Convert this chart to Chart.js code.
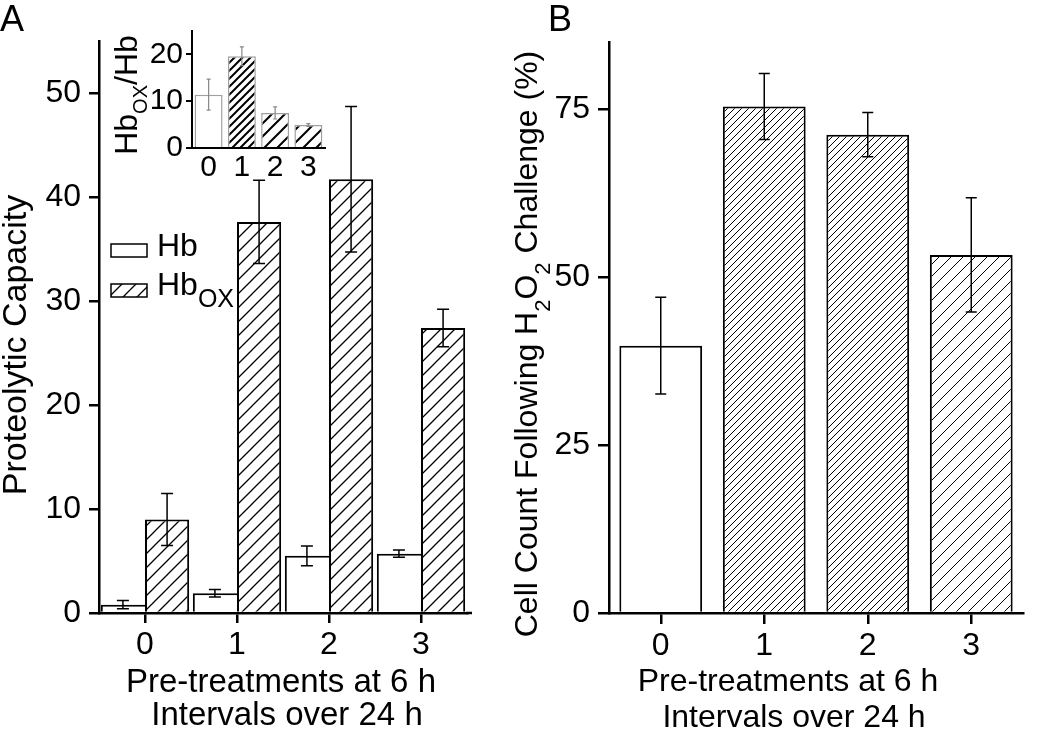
<!DOCTYPE html>
<html>
<head>
<meta charset="utf-8">
<script src="https://cdn.jsdelivr.net/npm/chart.js@4.4.1/dist/chart.umd.min.js"></script>
<style>
  body { margin: 0; background: #fff; }
  #wrap { position: relative; width: 1050px; height: 734px; overflow: hidden; }
  canvas { position: absolute; top: 0; }
</style>
</head>
<body>
<div id="wrap">
  <canvas id="panelA" width="490" height="734" style="left:0"></canvas>
  <canvas id="inset" width="240" height="190" style="left:100px"></canvas>
  <canvas id="panelB" width="550" height="734" style="left:500px"></canvas>
</div>
<script>
const FONT = '"Liberation Sans", Arial, sans-serif';

// categories (number of pre-treatments)
const categories = ['0', '1', '2', '3'];

// panel A: proteolytic capacity
const hbValues = [0.8, 1.9, 5.5, 5.7];
const hbErrors = [0.4, 0.35, 0.95, 0.35];
const hboxValues = [9.0, 37.6, 41.7, 27.4];
const hboxErrors = [2.5, 4.0, 7.0, 1.8];

// inset: HbOX / Hb ratio
const ratioValues = [11.4, 19.6, 7.5, 4.9];
const ratioErrors = [3.3, 2.0, 1.3, 0.3];

// panel B: cell count after H2O2 challenge (%)
const survivalValues = [39.8, 75.4, 71.2, 53.3];
const survivalErrors = [7.2, 4.9, 3.3, 8.5];

// diagonal "/" hatch fill
function hatch(step, width, color) {
  const c = document.createElement('canvas');
  c.width = step; c.height = step;
  const g = c.getContext('2d');
  g.fillStyle = '#fff';
  g.fillRect(0, 0, step, step);
  g.strokeStyle = color || '#000';
  g.lineWidth = width;
  g.beginPath();
  g.moveTo(0, step); g.lineTo(step, 0);
  g.moveTo(-step / 2, step / 2); g.lineTo(step / 2, -step / 2);
  g.moveTo(step / 2, step * 1.5); g.lineTo(step * 1.5, step / 2);
  g.stroke();
  return g.createPattern(c, 'repeat');
}

// text with sub-scripts: segs = [[text, size, dy]]
function drawRich(ctx, segs, x, y, angle, align) {
  ctx.save();
  ctx.translate(x, y);
  ctx.rotate(angle || 0);
  ctx.fillStyle = '#000';
  ctx.textBaseline = 'alphabetic';
  ctx.textAlign = 'left';
  let total = 0;
  segs.forEach(s => { ctx.font = s[1] + 'px ' + FONT; total += ctx.measureText(s[0]).width; });
  let cx = align === 'left' ? 0 : -total / 2;
  segs.forEach(s => {
    ctx.font = s[1] + 'px ' + FONT;
    ctx.fillText(s[0], cx, s[2] || 0);
    cx += ctx.measureText(s[0]).width;
  });
  ctx.restore();
}

const errorBars = {
  id: 'errorBars',
  afterDatasetsDraw(chart) {
    const ctx = chart.ctx;
    const yScale = chart.scales.y;
    chart.data.datasets.forEach((ds, i) => {
      if (!ds.errors) return;
      const meta = chart.getDatasetMeta(i);
      ctx.save();
      ctx.strokeStyle = ds.errorColor || '#000';
      ctx.lineWidth = ds.errorWidth || 1.5;
      meta.data.forEach((bar, j) => {
        const v = ds.data[j], e = ds.errors[j];
        const top = yScale.getPixelForValue(v + e);
        const bot = yScale.getPixelForValue(v - e);
        const cap = (ds.capWidth || 0) / 2;
        ctx.beginPath();
        ctx.moveTo(bar.x, top); ctx.lineTo(bar.x, bot);
        if (cap) {
          ctx.moveTo(bar.x - cap, top); ctx.lineTo(bar.x + cap, top);
          ctx.moveTo(bar.x - cap, bot); ctx.lineTo(bar.x + cap, bot);
        }
        ctx.stroke();
      });
      ctx.restore();
    });
  }
};

function axisX(fontSize, tickLen, pad, height, lw) {
  return {
    type: 'category',
    offset: true,
    grid: { display: tickLen > 0, offset: false, drawOnChartArea: false, drawTicks: tickLen > 0, tickLength: tickLen, color: '#000', lineWidth: lw },
    border: { display: true, color: '#000', width: lw },
    ticks: { color: '#000', font: { family: FONT, size: fontSize }, padding: pad, maxRotation: 0 },
    afterFit: s => { s.height = height; }
  };
}

function axisY(max, step, fontSize, tickLen, pad, width, lw) {
  return {
    min: 0, max: max,
    grid: { drawOnChartArea: false, drawTicks: true, tickLength: tickLen, color: '#000', lineWidth: lw },
    border: { display: true, color: '#000', width: lw },
    ticks: { stepSize: step, includeBounds: false, color: '#000', font: { family: FONT, size: fontSize }, padding: pad },
    afterFit: s => { s.width = width; }
  };
}

const hboxFill = hatch(14, 1.3);

// ---------- panel A ----------
const panelAText = {
  id: 'panelAText',
  afterDraw(chart) {
    const ctx = chart.ctx;
    const area = chart.chartArea;
    // the bottom axis runs a little past the last bar
    ctx.save();
    ctx.strokeStyle = '#000';
    ctx.lineWidth = 2.5;
    ctx.beginPath();
    ctx.moveTo(area.right - 1, area.bottom);
    ctx.lineTo(area.right + 5, area.bottom);
    ctx.stroke();
    ctx.restore();

    drawRich(ctx, [['A', 36]], 0, 31, 0, 'left');
    drawRich(ctx, [['Proteolytic Capacity', 34]], 26, 345, -Math.PI / 2);
    drawRich(ctx, [['Pre-treatments at 6 h', 33]], 281, 692);
    drawRich(ctx, [['Intervals over 24 h', 33]], 287, 725);
    // legend
    ctx.save();
    ctx.lineWidth = 1.5;
    ctx.strokeStyle = '#000';
    ctx.fillStyle = '#fff';
    ctx.fillRect(111, 244, 36, 13);
    ctx.strokeRect(111, 244, 36, 13);
    ctx.fillStyle = hboxFill;
    ctx.fillRect(111, 284, 36, 13);
    ctx.strokeRect(111, 284, 36, 13);
    ctx.restore();
    drawRich(ctx, [['Hb', 32]], 157, 256, 0, 'left');
    drawRich(ctx, [['Hb', 32], ['OX', 25, 12]], 157, 295, 0, 'left');
  }
};

new Chart(document.getElementById('panelA'), {
  type: 'bar',
  data: {
    labels: categories,
    datasets: [
      {
        label: 'Hb', data: hbValues, errors: hbErrors, capWidth: 12,
        backgroundColor: '#fff', borderColor: '#000',
        borderWidth: { left: 2, top: 2, right: 0, bottom: 0 },
        categoryPercentage: 0.96, barPercentage: 1
      },
      {
        label: 'HbOX', data: hboxValues, errors: hboxErrors, capWidth: 12,
        backgroundColor: hboxFill, borderColor: '#000', borderWidth: 2,
        categoryPercentage: 0.96, barPercentage: 1
      }
    ]
  },
  options: {
    responsive: false, animation: false, events: [],
    layout: { padding: { top: 41, right: 23, left: 0, bottom: 0 } },
    plugins: { legend: { display: false }, tooltip: { enabled: false } },
    scales: {
      x: axisX(32, 10, 3, 121, 2.5),
      y: axisY(55, 10, 32, 10, 8, 99, 2.5)
    }
  },
  plugins: [errorBars, panelAText]
});

// ---------- inset ----------
const insetText = {
  id: 'insetText',
  afterDraw(chart) {
    drawRich(chart.ctx, [['Hb', 32], ['OX', 20, 10], ['/Hb', 32]], 37, 95, -Math.PI / 2);
  }
};

new Chart(document.getElementById('inset'), {
  type: 'bar',
  data: {
    labels: categories,
    datasets: [{
      label: 'HbOX/Hb', data: ratioValues, errors: ratioErrors, capWidth: 4,
      errorColor: '#888', errorWidth: 1.2,
      backgroundColor: ['#fff', hatch(8, 2), hatch(13, 2), hatch(13, 2)],
      borderColor: '#a0a0a0', borderWidth: 1.5,
      categoryPercentage: 1, barPercentage: 0.84
    }]
  },
  options: {
    responsive: false, animation: false, events: [],
    layout: { padding: { top: 31, right: 15, left: 0, bottom: 0 } },
    plugins: { legend: { display: false }, tooltip: { enabled: false } },
    scales: {
      x: axisX(30, 0, 2, 42, 2),
      y: axisY(25, 10, 30, 6, 3, 92, 2)
    }
  },
  plugins: [errorBars, insetText]
});

// ---------- panel B ----------
const panelBText = {
  id: 'panelBText',
  afterDraw(chart) {
    const ctx = chart.ctx;
    drawRich(ctx, [['B', 36]], 48, 31, 0, 'left');
    drawRich(ctx, [['Cell Count Following H', 32], ['2', 22, 13], ['O', 32], ['2', 22, 13], [' Challenge (%)', 32]],
      37, 344, -Math.PI / 2);
    drawRich(ctx, [['Pre-treatments at 6 h', 32]], 288, 691);
    drawRich(ctx, [['Intervals over 24 h', 32]], 294, 727);
  }
};

new Chart(document.getElementById('panelB'), {
  type: 'bar',
  data: {
    labels: categories,
    datasets: [{
      label: 'Cell count', data: survivalValues, errors: survivalErrors, capWidth: 11,
      backgroundColor: ['#fff', hatch(7, 1), hatch(7, 1), hatch(12, 1)],
      borderColor: '#000', borderWidth: 2,
      categoryPercentage: 1, barPercentage: 0.8
    }]
  },
  options: {
    responsive: false, animation: false, events: [],
    layout: { padding: { top: 42, right: 27, left: 0, bottom: 0 } },
    plugins: { legend: { display: false }, tooltip: { enabled: false } },
    scales: {
      x: axisX(32, 11, 3, 121, 2.5),
      y: axisY(85, 25, 32, 11, 8, 109, 2.5)
    }
  },
  plugins: [errorBars, panelBText]
});
</script>
</body>
</html>
